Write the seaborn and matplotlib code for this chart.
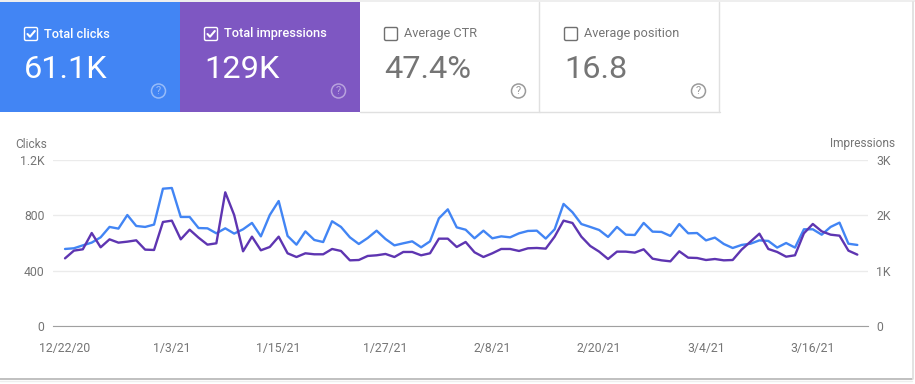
import matplotlib
matplotlib.use('Agg')
import matplotlib.pyplot as plt
from matplotlib.patches import Rectangle, Circle, FancyBboxPatch
import pandas as pd
import seaborn as sns

clicks = [558, 563, 584, 604, 642, 717, 705, 803, 724, 717, 734, 993, 998, 789, 789, 709, 707, 671, 707, 669,
          700, 746, 649, 803, 904, 652, 589, 685, 623, 608, 758, 717, 642, 594, 637, 690, 630, 584, 599, 613,
          570, 613, 779, 844, 714, 697, 635, 690, 635, 649, 642, 671, 688, 690, 633, 700, 883, 823, 738, 717,
          695, 645, 717, 661, 659, 746, 683, 681, 652, 738, 671, 673, 620, 640, 594, 565, 587, 596, 620, 616,
          568, 601, 568, 700, 700, 661, 717, 748, 596, 587]
impressions = [1226, 1365, 1389, 1683, 1425, 1569, 1509, 1527, 1551, 1383, 1377, 1882, 1906, 1569, 1743, 1599,
               1473, 1497, 2417, 2008, 1353, 1617, 1371, 1431, 1617, 1317, 1250, 1317, 1299, 1299, 1395, 1359,
               1190, 1196, 1269, 1281, 1305, 1250, 1341, 1341, 1281, 1317, 1581, 1581, 1431, 1521, 1335, 1250,
               1317, 1395, 1395, 1359, 1407, 1413, 1401, 1617, 1906, 1864, 1617, 1449, 1347, 1214, 1347, 1347,
               1329, 1389, 1220, 1190, 1172, 1353, 1238, 1232, 1196, 1214, 1190, 1196, 1383, 1527, 1671, 1395,
               1341, 1256, 1281, 1677, 1846, 1713, 1653, 1635, 1365, 1293]
tick_dates = ['2020-12-22', '2021-01-03', '2021-01-15', '2021-01-27', '2021-02-08', '2021-02-20', '2021-03-04',
              '2021-03-16']
tick_labels = ['12/22/20', '1/3/21', '1/15/21', '1/27/21', '2/8/21', '2/20/21', '3/4/21', '3/16/21']
clicks_ticks = [0, 400, 800, 1200]
clicks_labels = ['0', '400', '800', '1.2K']
impr_ticks = [0, 1000, 2000, 3000]
impr_labels = ['0', '1K', '2K', '3K']
cards = [('Total clicks', '61.1K', True), ('Total impressions', '129K', True),
         ('Average CTR', '47.4%', False), ('Average position', '16.8', False)]

BLUE = '#4285f4'
PURPLE = '#7e57c2'
LINE_PURPLE = '#5e35b1'
GRAY = '#757575'
W, H = 915, 384

sns.set_theme(style='white')
plt.rcParams['font.family'] = ['Roboto', 'DejaVu Sans']

df = pd.DataFrame({'date': pd.date_range('2020-12-22', periods=len(clicks)),
                   'clicks': clicks, 'impressions': impressions})

fig = plt.figure(figsize=(W / 100, H / 100), dpi=100, facecolor='white')

# page layer in pixel coordinates
bg = fig.add_axes([0, 0, 1, 1], zorder=0)
bg.set_xlim(0, W)
bg.set_ylim(H, 0)
bg.axis('off')

bg.add_patch(Rectangle((0, 0), W, 2, color='#eeeeee', lw=0))
bg.plot([0, 912], [379, 379], color='#b5b5b5', lw=1.2)
bg.plot([912.5, 912.5], [2, 379], color='#dddddd', lw=1.2)
bg.plot([0, 912], [380.5, 380.5], color='#eeeeee', lw=1)

for i, (name, value, active) in enumerate(cards):
    x0 = 180 * i
    if active:
        bg.add_patch(Rectangle((x0, 2), 180, 110, color=[BLUE, PURPLE][i], lw=0))
        fg = 'white'
        box = 'white'
        help_col = (1, 1, 1, 0.45)
    else:
        bg.plot([x0 + 179.2, x0 + 179.2], [2, 112], color='#e0e0e0', lw=1)
        bg.plot([x0, x0 + 180], [111.5, 111.5], color='#e0e0e0', lw=1)
        fg = GRAY
        box = '#6f6f6f'
        help_col = '#9a9a9a'
    bg.add_patch(FancyBboxPatch((x0 + 24.5, 27.5), 13, 13, boxstyle='round,pad=0,rounding_size=1.5',
                                fc='none', ec=box, lw=1))
    if active:
        bg.plot([x0 + 27.5, x0 + 30, x0 + 34.8], [34, 36.7, 31], color='white', lw=1.5)
    bg.text(x0 + 44, 34, name, color=fg, fontsize=9.2, va='center', ha='left',
            fontweight='medium' if active else 'normal')
    bg.text(x0 + 24, 70, value, color=fg, fontsize=23.4, va='center', ha='left')
    bg.add_patch(Circle((x0 + 158.5, 91), 7, fc='none', ec=help_col, lw=1.1))
    bg.text(x0 + 158.5, 91, '?', color=help_col, fontsize=8, va='center', ha='center')

bg.text(15.5, 144, 'Clicks', color=GRAY, fontsize=8.6, va='center', ha='left')
bg.text(895, 144, 'Impressions', color=GRAY, fontsize=8.6, va='center', ha='right')

# chart
ax = fig.add_axes([53 / W, 1 - 326.3 / H, 815 / W, 166.3 / H], zorder=1)
ax.patch.set_alpha(0)
ax2 = ax.twinx()

sns.lineplot(data=df, x='date', y='clicks', ax=ax, color=BLUE, lw=1.7, zorder=3)
sns.lineplot(data=df, x='date', y='impressions', ax=ax2, color=LINE_PURPLE, lw=1.7, zorder=2)

ax.set_xlim(pd.Timestamp('2020-12-22') - pd.Timedelta(days=1.35), pd.Timestamp('2020-12-22') + pd.Timedelta(days=90.2))
ax.set_ylim(0, 1200)
ax2.set_ylim(0, 3000)
ax.set_xticks(pd.to_datetime(tick_dates))
ax.set_xticklabels(tick_labels)
ax.set_yticks(clicks_ticks)
ax.set_yticklabels(clicks_labels)
ax2.set_yticks(impr_ticks)
ax2.set_yticklabels(impr_labels)
ax.set_xlabel('')
ax.set_ylabel('')
ax2.set_ylabel('')
ax.grid(axis='y', color='#ebebeb', lw=1)
ax.set_axisbelow(True)
ax.tick_params(axis='x', length=0, pad=11, labelsize=8.8, labelcolor=GRAY)
ax.tick_params(axis='y', length=0, pad=6, labelsize=8.8, labelcolor=GRAY)
ax2.tick_params(axis='y', length=0, pad=6, labelsize=8.8, labelcolor=GRAY)

for a in (ax, ax2):
    for s in ('top', 'left', 'right', 'bottom'):
        a.spines[s].set_visible(False)
ax.spines['bottom'].set_visible(True)
ax.spines['bottom'].set_color('#a0a0a0')
ax.spines['bottom'].set_linewidth(0.8)

fig.savefig('out.png', dpi=100)
